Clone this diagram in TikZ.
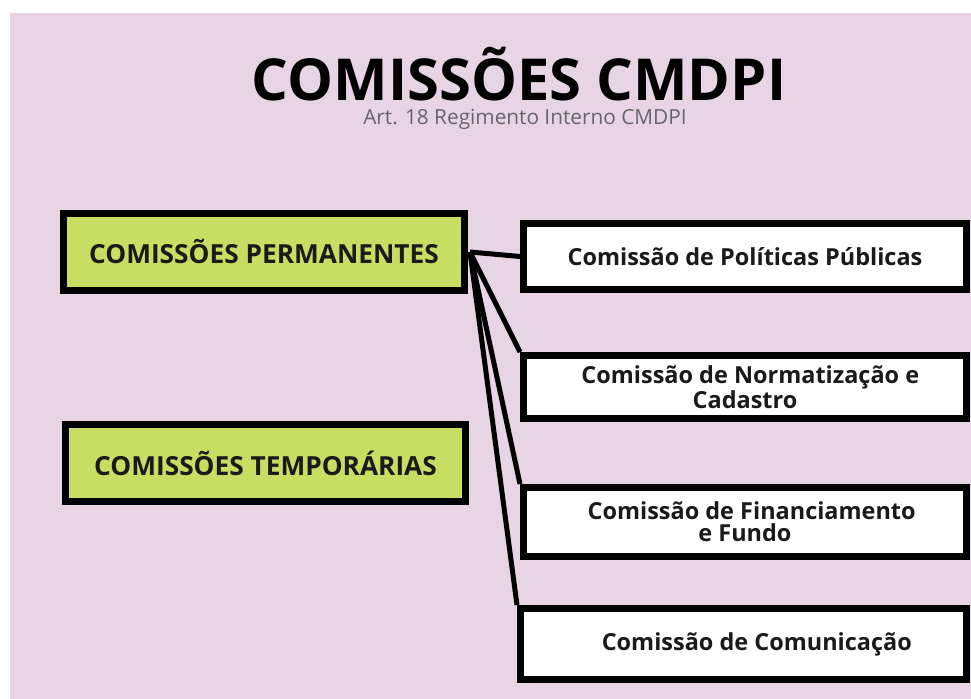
\documentclass[tikz,border=0pt]{standalone}
\usepackage{fontspec}
\setmainfont{Open Sans}
\usetikzlibrary{positioning}
\definecolor{fundo}{HTML}{E7D5E6}
\definecolor{verde}{HTML}{C8DE62}
\definecolor{tinta}{HTML}{1A1A1A}
\tikzset{
  grupo/.style={draw=black, line width=5.25pt, fill=verde, inner sep=0pt,
    font=\bfseries\fontsize{19.7}{22}\selectfont, text=tinta},
  comissao/.style={draw=black, line width=5.25pt, fill=white, inner sep=0pt,
    font=\bfseries\fontsize{17.6}{16.5}\selectfont, text=tinta, align=center},
  ligacao/.style={line width=3.75pt, black}
}

\begin{document}
\begin{tikzpicture}[x=0.75pt, y=-0.75pt]
  \useasboundingbox (0,0) rectangle (971,699);
  \fill[fundo] (10,13) rectangle (971,699);

  \node (titulo) at (519,101) [anchor=base, inner sep=0pt] {\bfseries\fontsize{43.4}{46}\selectfont COMISSÕES CMDPI};
  \node (sub) at (525,124.5) [anchor=base, inner sep=0pt, text=black!60, font=\fontsize{15.6}{17}\selectfont] {Art. 18 Regimento Interno CMDPI};

  \node (perm) at (264,252)   [grupo, minimum width=300.75pt, minimum height=57.75pt] {COMISSÕES PERMANENTES};
  \node (temp) at (265.5,463) [grupo, minimum width=300pt, minimum height=57.75pt] {COMISSÕES TEMPORÁRIAS};

  \node (pol)  at (745,256.5) [comissao, minimum width=332.25pt, minimum height=49.5pt] {Comissão de Políticas Públicas};
  \node (norm) at (745,387)   [comissao, minimum width=332.25pt, minimum height=47.25pt] {\hspace*{8pt}Comissão de Normatização e\\Cadastro};
  \node (fin)  at (745,522)   [comissao, minimum width=332.25pt, minimum height=51.75pt] {\hspace*{10pt}Comissão de Financiamento\\e Fundo};
  \node (com)  at (743.5,644) [comissao, minimum width=334.5pt, minimum height=53.25pt] {\hspace*{20pt}Comissão de Comunicação};

  \coordinate (saida) at (470,252);
  \draw[ligacao] (saida) -- (pol.west);
  \draw[ligacao] (saida) -- (norm.north west);
  \draw[ligacao] (saida) -- (fin.north west);
  \draw[ligacao] (saida) -- (com.north west);
\end{tikzpicture}
\end{document}
